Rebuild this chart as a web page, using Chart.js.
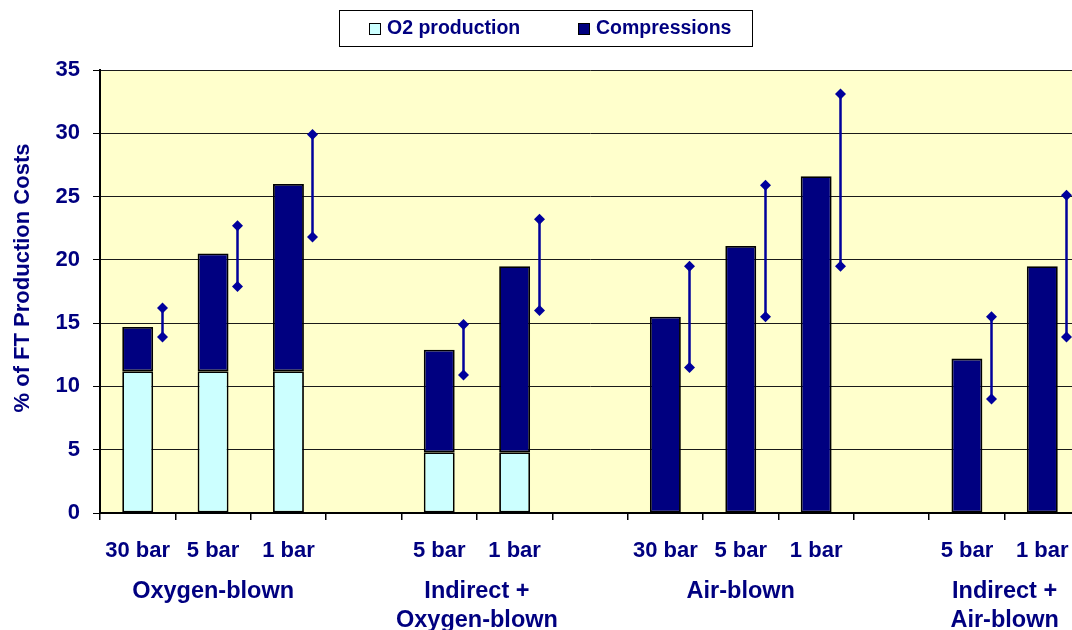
<!DOCTYPE html>
<html>
<head>
<meta charset="utf-8">
<title>FT production cost shares</title>
<script src="https://cdn.jsdelivr.net/npm/chart.js@4/dist/chart.umd.min.js"></script>
<style>
  html, body { margin: 0; padding: 0; background: #ffffff; overflow: hidden; }
  #wrap { position: absolute; left: 0; top: 0; width: 1082px; height: 630px; }
</style>
</head>
<body>
<div id="wrap"><canvas id="c" width="1082" height="630"></canvas></div>
<script>
// Pressure cases along the x axis (blank slots separate the gasifier groups)
const categories = ['30 bar', '5 bar', '1 bar', '', '5 bar', '1 bar', '', '30 bar', '5 bar', '1 bar', '', '5 bar', '1 bar'];

// Gasifier groups and the category slots they span
const groupLabels = [['Oxygen-blown'], ['Indirect +', 'Oxygen-blown'], ['Air-blown'], ['Indirect +', 'Air-blown']];
const groupSpans = [[0, 2], [4, 5], [7, 9], [11, 12]];

// Cost shares, % of FT production costs
const o2Production = [11.2, 11.2, 11.2, null, 4.8, 4.8, null, null, null, null, null, null, null];
const compressions = [3.5, 9.3, 14.8, null, 8.1, 14.7, null, 15.5, 21.1, 26.6, null, 12.2, 19.5];

// Uncertainty range of the total share
const rangeLow  = [13.9, 17.9, 21.8, null, 10.9, 16.0, null, 11.5, 15.5, 19.5, null, 9.0, 13.9];
const rangeHigh = [16.2, 22.7, 29.9, null, 14.9, 23.2, null, 19.5, 25.9, 33.1, null, 15.5, 25.1];

// Y axis ticks and title
const yTicks = [0, 5, 10, 15, 20, 25, 30, 35];
const yTitle = '% of FT Production Costs';

const NAVY = '#000080';
const FONT = '"Liberation Sans", Arial, sans-serif';

// Plot background
const plotBackground = {
  id: 'plotBackground',
  beforeDraw(chart) {
    const { ctx, chartArea: a } = chart;
    ctx.save();
    ctx.fillStyle = '#FFFFCC';
    ctx.fillRect(a.left, a.top, a.right - a.left, a.bottom - a.top);
    ctx.restore();
  }
};

// Vertical range lines with diamond ends, beside each bar
const rangeMarks = {
  id: 'rangeMarks',
  afterDatasetsDraw(chart) {
    const { ctx, scales: { x, y } } = chart;
    const offset = 24;
    ctx.save();
    ctx.strokeStyle = '#00009C';
    ctx.fillStyle = '#00009C';
    ctx.lineWidth = 2.5;
    rangeLow.forEach((lo, i) => {
      const hi = rangeHigh[i];
      if (lo == null || hi == null) return;
      const px = Math.round(x.getPixelForValue(i) + offset) + 0.5;
      const y1 = y.getPixelForValue(lo);
      const y2 = y.getPixelForValue(hi);
      ctx.beginPath();
      ctx.moveTo(px, y1);
      ctx.lineTo(px, y2);
      ctx.stroke();
      [y1, y2].forEach(py => {
        const s = 5.5;
        ctx.beginPath();
        ctx.moveTo(px, py - s);
        ctx.lineTo(px + s, py);
        ctx.lineTo(px, py + s);
        ctx.lineTo(px - s, py);
        ctx.closePath();
        ctx.fill();
      });
    });
    ctx.restore();
  }
};

// Group names under the pressure labels, plus the rotated y-axis title
const axisTexts = {
  id: 'axisTexts',
  afterDraw(chart) {
    const { ctx, scales: { x } } = chart;
    ctx.save();
    ctx.fillStyle = NAVY;
    ctx.textAlign = 'center';
    ctx.textBaseline = 'middle';
    ctx.font = 'bold 23.5px ' + FONT;
    groupLabels.forEach((lines, g) => {
      const [from, to] = groupSpans[g];
      const cx = (x.getPixelForValue(from) + x.getPixelForValue(to)) / 2;
      lines.forEach((t, k) => ctx.fillText(t, cx, 592 + k * 29));
    });
    ctx.font = 'bold 22px ' + FONT;
    ctx.translate(23, 278);
    ctx.rotate(-Math.PI / 2);
    ctx.fillText(yTitle, 0, 0);
    ctx.restore();
  }
};

// Boxed legend above the plot
const boxedLegend = {
  id: 'boxedLegend',
  afterDraw(chart) {
    const { ctx } = chart;
    ctx.save();
    ctx.fillStyle = '#ffffff';
    ctx.fillRect(339.5, 10.5, 413, 36);
    ctx.strokeStyle = '#000000';
    ctx.lineWidth = 1;
    ctx.strokeRect(339.5, 10.5, 413, 36);
    ctx.font = 'bold 19.5px ' + FONT;
    ctx.textBaseline = 'middle';
    ctx.textAlign = 'left';
    const starts = [369, 578];
    chart.data.datasets.forEach((ds, i) => {
      const sx = starts[i];
      ctx.fillStyle = ds.backgroundColor;
      ctx.fillRect(sx + 0.5, 23.5, 11, 11);
      ctx.strokeStyle = '#000000';
      ctx.strokeRect(sx + 0.5, 23.5, 11, 11);
      ctx.fillStyle = NAVY;
      ctx.fillText(ds.label, sx + 18, 29);
    });
    ctx.restore();
  }
};

new Chart(document.getElementById('c'), {
  type: 'bar',
  data: {
    labels: categories,
    datasets: [
      {
        label: 'O2 production',
        data: o2Production,
        backgroundColor: '#CCFFFF',
        borderColor: '#000000',
        borderWidth: 1.8,
        borderSkipped: false
      },
      {
        label: 'Compressions',
        data: compressions,
        backgroundColor: NAVY,
        borderColor: '#000000',
        borderWidth: 1.8,
        borderSkipped: false
      }
    ]
  },
  options: {
    responsive: false,
    animation: false,
    layout: { padding: { top: 70, right: 2, left: 0, bottom: 0 } },
    datasets: { bar: { categoryPercentage: 1.0, barPercentage: 0.41 } },
    plugins: {
      legend: { display: false },
      tooltip: { enabled: false }
    },
    scales: {
      x: {
        stacked: true,
        afterFit(scale) {
          scale.height = 117;
          scale.paddingLeft = 0;
          scale.paddingRight = 0;
        },
        grid: {
          display: true,
          drawOnChartArea: false,
          drawTicks: true,
          tickLength: 7,
          color: '#000000',
          lineWidth: 1.5,
          offset: true
        },
        border: { display: true, color: '#000000', width: 2 },
        ticks: {
          color: NAVY,
          font: { family: FONT, size: 22, weight: 'bold' },
          padding: 18,
          maxRotation: 0,
          autoSkip: false
        }
      },
      y: {
        stacked: true,
        min: 0,
        max: 35,
        afterFit(scale) { scale.width = 100; },
        afterBuildTicks(scale) { scale.ticks = yTicks.map(v => ({ value: v })); },
        grid: {
          color: '#1a1a1a',
          lineWidth: 1,
          drawTicks: true,
          tickLength: 7,
          tickColor: '#000000'
        },
        border: { display: true, color: '#000000', width: 2 },
        ticks: {
          color: NAVY,
          font: { family: FONT, size: 22, weight: 'bold' },
          padding: 13
        }
      }
    }
  },
  plugins: [plotBackground, rangeMarks, axisTexts, boxedLegend]
});
</script>
</body>
</html>
